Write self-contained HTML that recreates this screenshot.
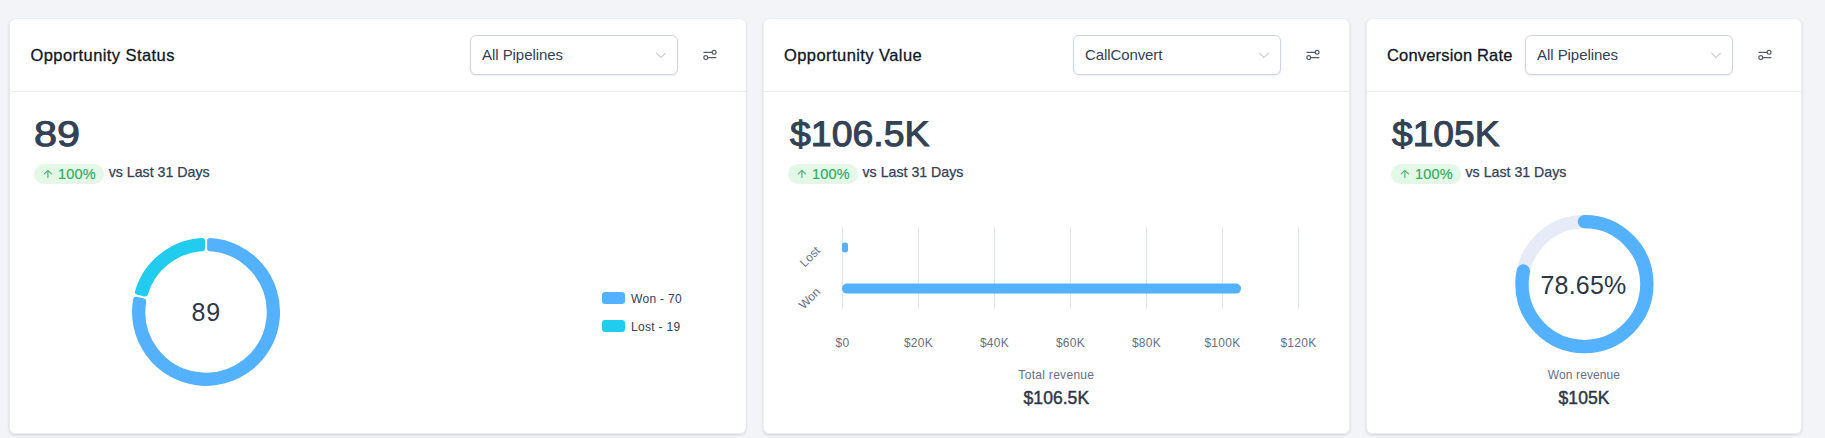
<!DOCTYPE html>
<html lang="en">
<head>
<meta charset="utf-8">
<title>Dashboard</title>
<style>
*{box-sizing:border-box;margin:0;padding:0}
html,body{width:1825px;height:438px;overflow:hidden}
body{background:#f2f4f7;font-family:"Liberation Sans",Arial,sans-serif;color:#101828;position:relative}
.card{position:absolute;top:19px;height:415px;background:#fff;border-radius:6px}
.in{position:absolute;top:-.5px;height:415px}
.ln{position:absolute;left:0;right:0;top:72px;height:1px;background:#eaecf0}
.hdr{position:absolute;left:0;right:0;top:0;height:73px}
.t{position:absolute;white-space:nowrap;line-height:1}
.title{font-size:16.5px;color:#101828;top:28px;letter-spacing:.43px;-webkit-text-stroke:.3px #101828}
.sel{position:absolute;top:16.5px;height:40px;width:208px;border:1px solid #cfd4e0;border-radius:6px;background:#fff;box-shadow:0 1px 2px rgba(16,24,40,.08)}
.sel .t{left:11px;top:11px;font-size:15px;color:#344054}
.sel svg{position:absolute;right:10px;top:12.5px}
.fi{position:absolute;top:27.5px}
.big{font-size:35.5px;color:#334155;top:98px;-webkit-text-stroke:1px #334155;transform-origin:0 0;transform:scale(1.165,1);text-rendering:geometricPrecision}
.badge{position:absolute;top:145.5px;height:20px;border-radius:10px;background:#e4f8e8;width:69.6px}
.badge .t{left:24px;top:2.6px;font-size:14.5px;color:#32ad64;letter-spacing:.2px;-webkit-text-stroke:.2px #32ad64}
.badge svg{position:absolute;left:8px;top:4px}
.vs{font-size:14.2px;color:#344054;top:146px;letter-spacing:0;-webkit-text-stroke:.25px #344054}
.sm{font-size:12px;color:#344054;letter-spacing:.3px}
.lab{font-size:12px;color:#667085;letter-spacing:.3px}
.tot{font-size:17.5px;color:#2d3748;letter-spacing:.05px;-webkit-text-stroke:.45px #2d3748}
</style>
</head>
<body>

<!-- Card 1 -->
<div class="card" style="left:9px;width:737px;box-shadow:inset 0 -1px 0 #ecedf1,inset 1px 0 0 #e9ebf0,0 1px 3px rgba(16,24,40,.095),0 1px 2px rgba(16,24,40,.055),0 0 1.5px rgba(16,24,40,.05)"><div class="ln"></div><div class="in" style="left:1px;width:736px">
  <div class="hdr">
    <span class="t title" style="left:20.5px">Opportunity Status</span>
    <div class="sel" style="left:460px"><span class="t" style="letter-spacing:-.05px">All Pipelines</span>
      <svg width="12" height="12" viewBox="0 0 12 12" fill="none" stroke="#a8b0bd" stroke-width="1" stroke-linecap="round" stroke-linejoin="round"><path d="M1.6 4.2 L6 8.6 L10.4 4.2"/></svg>
    </div>
    <svg class="fi" style="right:26px" width="20" height="18" viewBox="0 0 20 18" fill="none" stroke="#525b6b" stroke-width="1.15" stroke-linecap="round"><path d="M3.9 6.3H12.1M7.8 11.6H16"/><circle cx="14.1" cy="6.3" r="1.95"/><circle cx="5.8" cy="11.6" r="1.95"/></svg>
  </div>
  <span class="t big" style="left:24.3px">89</span>
  <div class="badge" style="left:24px"><svg width="12" height="12" viewBox="0 0 12 12" fill="none" stroke="#4dba7a" stroke-width="1.2" stroke-linecap="round" stroke-linejoin="round"><path d="M5.9 9.4V2.3M2.3 5.9L5.9 2.3L9.5 5.9"/></svg><span class="t">100%</span></div>
  <span class="t vs" style="left:98.7px">vs Last 31 Days</span>

  <svg style="position:absolute;left:116px;top:213.5px" width="160" height="160" viewBox="-80 -80 160 160">
    <g stroke-width="5.6" stroke-linejoin="round" transform="translate(0.05,-0.1)">
      <path fill="#53b1fd" stroke="#53b1fd" d="M3.85 -71.10A71.20 71.20 0 1 1 -70.11 -12.42L-62.60 -10.67A63.50 63.50 0 1 0 3.85 -63.38Z"/>
      <path fill="#22ccee" stroke="#22ccee" d="M-68.36 -19.92A71.20 71.20 0 0 1 -3.85 -71.10L-3.85 -63.38A63.50 63.50 0 0 0 -60.85 -18.16Z"/>
    </g>
    <text x="0.3" y="9.4" text-anchor="middle" font-size="25" letter-spacing="1" fill="#2d3748" font-family="Liberation Sans, sans-serif">89</text>
  </svg>

  <div style="position:absolute;left:592px;top:273.5px;width:23.2px;height:11.8px;border-radius:3px;background:#53b1fd"></div>
  <span class="t sm" style="left:621px;top:274px">Won - 70</span>
  <div style="position:absolute;left:592px;top:301.5px;width:23.2px;height:11.8px;border-radius:3px;background:#22ccee"></div>
  <span class="t sm" style="left:621px;top:302px">Lost - 19</span>
</div></div>

<!-- Card 2 -->
<div class="card" style="left:763px;width:587px;box-shadow:inset 0 -1px 0 #ecedf1,inset 1px 0 0 #eeeff3,inset -1px 0 0 #eaecf0,0 1px 3px rgba(16,24,40,.095),0 1px 2px rgba(16,24,40,.055),0 0 1.5px rgba(16,24,40,.05)"><div class="ln"></div><div class="in" style="left:.5px;width:585.5px">
  <div class="hdr">
    <span class="t title" style="left:20.5px">Opportunity Value</span>
    <div class="sel" style="left:309.5px"><span class="t" style="letter-spacing:-.1px">CallConvert</span>
      <svg width="12" height="12" viewBox="0 0 12 12" fill="none" stroke="#a8b0bd" stroke-width="1" stroke-linecap="round" stroke-linejoin="round"><path d="M1.6 4.2 L6 8.6 L10.4 4.2"/></svg>
    </div>
    <svg class="fi" style="right:26px" width="20" height="18" viewBox="0 0 20 18" fill="none" stroke="#525b6b" stroke-width="1.15" stroke-linecap="round"><path d="M3.9 6.3H12.1M7.8 11.6H16"/><circle cx="14.1" cy="6.3" r="1.95"/><circle cx="5.8" cy="11.6" r="1.95"/></svg>
  </div>
  <span class="t big" style="left:26.25px;transform:scale(1.0545,1)">$106.5K</span>
  <div class="badge" style="left:24.5px"><svg width="12" height="12" viewBox="0 0 12 12" fill="none" stroke="#4dba7a" stroke-width="1.2" stroke-linecap="round" stroke-linejoin="round"><path d="M5.9 9.4V2.3M2.3 5.9L5.9 2.3L9.5 5.9"/></svg><span class="t">100%</span></div>
  <span class="t vs" style="left:99px">vs Last 31 Days</span>

  <svg style="position:absolute;left:0.5px;top:190.5px" width="585" height="150" viewBox="0 0 585 150">
    <path stroke="#e1e6f1" stroke-width="1" d="M78.5 18V100.5M154.5 18V100.5M230.5 18V100.5M306.5 18V100.5M382.5 18V100.5M458.5 18V100.5M534.5 18V100.5"/>
    <rect x="78" y="33.4" width="6" height="10" rx="2.6" fill="#53b1fd"/>
    <rect x="78" y="74.6" width="399" height="10" rx="5" fill="#53b1fd"/>
    <g font-size="12" fill="#667085" font-family="Liberation Sans, sans-serif" letter-spacing=".3">
      <text transform="translate(57,42.3) rotate(-45)" text-anchor="end" letter-spacing=".1">Lost</text>
      <text transform="translate(57,83.5) rotate(-45)" text-anchor="end" letter-spacing="0">Won</text>
      <g text-anchor="middle">
        <text x="78.5" y="138">$0</text>
        <text x="154.5" y="138">$20K</text>
        <text x="230.5" y="138">$40K</text>
        <text x="306.5" y="138">$60K</text>
        <text x="382.5" y="138">$80K</text>
        <text x="458.5" y="138">$100K</text>
        <text x="534.5" y="138">$120K</text>
      </g>
    </g>
  </svg>
  <span class="t lab" style="left:0;width:585.7px;text-align:center;top:350px">Total revenue</span>
  <span class="t tot" style="left:0;width:585.7px;text-align:center;top:371.5px">$106.5K</span>
</div></div>

<!-- Card 3 -->
<div class="card" style="left:1366px;width:436px;box-shadow:inset 0 -1px 0 #ecedf1,inset 1px 0 0 #eaecf0,inset -1px 0 0 #ecedf1,0 1px 3px rgba(16,24,40,.095),0 1px 2px rgba(16,24,40,.055),0 0 1.5px rgba(16,24,40,.05)"><div class="ln"></div><div class="in" style="left:.5px;width:435px">
  <div class="hdr">
    <span class="t title" style="left:20.5px;letter-spacing:.18px">Conversion Rate</span>
    <div class="sel" style="left:158.5px"><span class="t" style="letter-spacing:-.05px">All Pipelines</span>
      <svg width="12" height="12" viewBox="0 0 12 12" fill="none" stroke="#a8b0bd" stroke-width="1" stroke-linecap="round" stroke-linejoin="round"><path d="M1.6 4.2 L6 8.6 L10.4 4.2"/></svg>
    </div>
    <svg class="fi" style="right:27px" width="20" height="18" viewBox="0 0 20 18" fill="none" stroke="#525b6b" stroke-width="1.15" stroke-linecap="round"><path d="M3.9 6.3H12.1M7.8 11.6H16"/><circle cx="14.1" cy="6.3" r="1.95"/><circle cx="5.8" cy="11.6" r="1.95"/></svg>
  </div>
  <span class="t big" style="left:25.35px;transform:scale(1.0465,1)">$105K</span>
  <div class="badge" style="left:24.5px"><svg width="12" height="12" viewBox="0 0 12 12" fill="none" stroke="#4dba7a" stroke-width="1.2" stroke-linecap="round" stroke-linejoin="round"><path d="M5.9 9.4V2.3M2.3 5.9L5.9 2.3L9.5 5.9"/></svg><span class="t">100%</span></div>
  <span class="t vs" style="left:99px">vs Last 31 Days</span>

  <svg style="position:absolute;left:137.5px;top:185.5px" width="160" height="160" viewBox="0 0 160 160">
    <g fill="none" stroke-width="13.3" transform="translate(80.4,80.1)">
      <circle r="62.45" stroke="#e6ebf7"/>
      <circle r="62.45" stroke="#53b1fd" stroke-linecap="round" stroke-dasharray="307.04 1000" transform="rotate(-90)"/>
    </g>
    <text x="79.5" y="90" text-anchor="middle" font-size="25" letter-spacing=".2" fill="#2d3748" font-family="Liberation Sans, sans-serif">78.65%</text>
  </svg>
  <span class="t lab" style="left:0;width:435px;text-align:center;top:350px;letter-spacing:.1px">Won revenue</span>
  <span class="t tot" style="left:0;width:435px;text-align:center;top:371.5px">$105K</span>
</div></div>

</body>
</html>
